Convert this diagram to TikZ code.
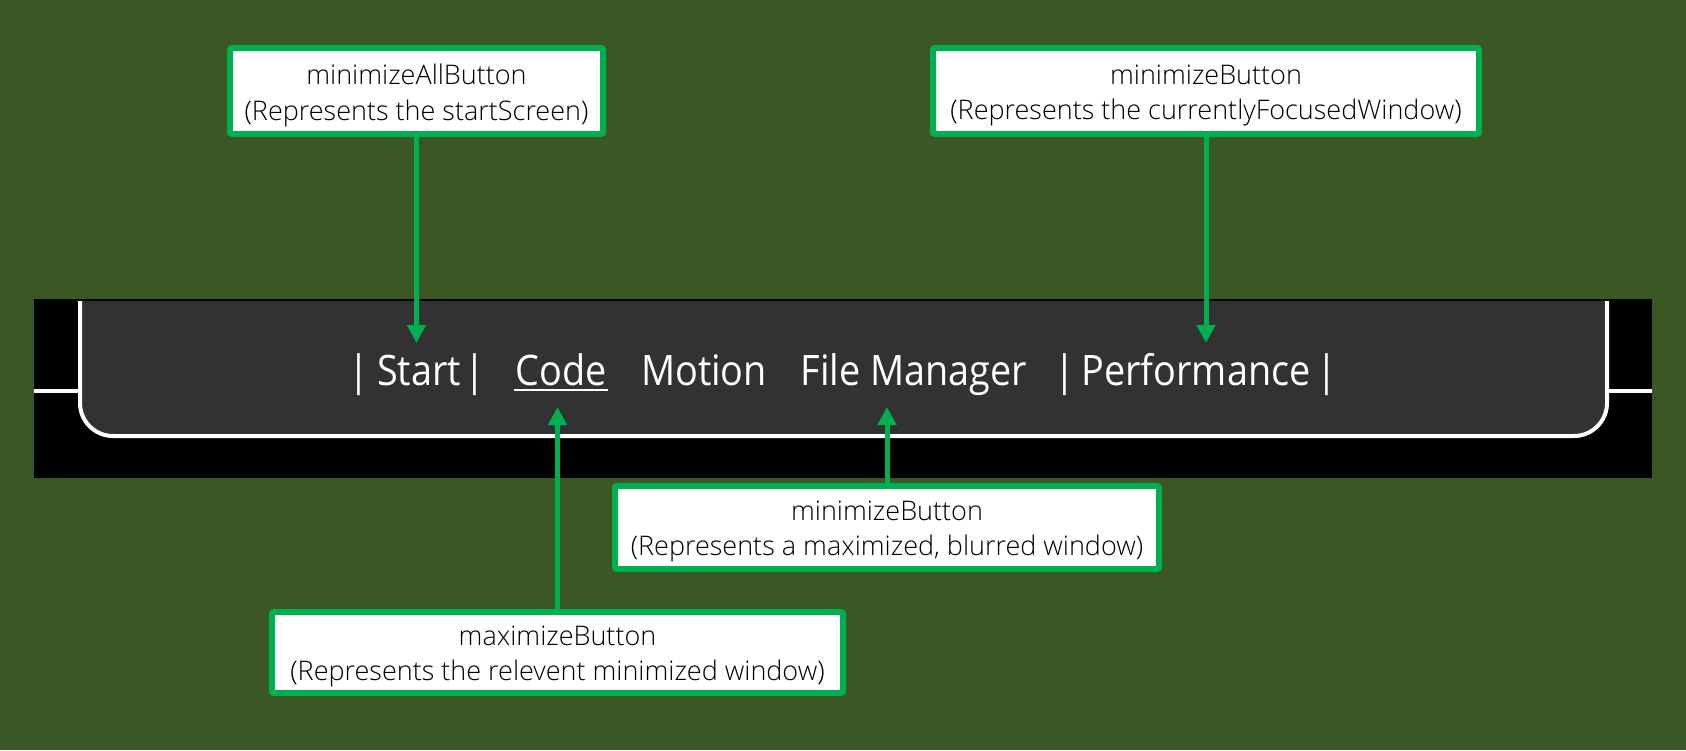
\documentclass[tikz,border=0pt]{standalone}
\usepackage{fontspec}
\setmainfont{Open Sans}
\IfFontExistsTF{Open Sans Light}{\newfontfamily\boxfont{Open Sans Light}}{\newfontfamily\boxfont{Open Sans}}
\usetikzlibrary{arrows.meta}
\definecolor{bggreen}{RGB}{58,87,36}
\definecolor{boxgreen}{RGB}{0,176,80}
\definecolor{panelgray}{RGB}{50,50,50}
\tikzset{
  labelbox/.style={draw=boxgreen, line width=6pt, fill=white, rounded corners=2pt,
    inner sep=0pt},
  boxtext/.style={align=center, inner sep=0pt, text=black,
    font=\boxfont\fontsize{27}{35.5}\selectfont},
  pointer/.style={draw=boxgreen, line width=5pt, -{Triangle[length=18pt,width=18pt]}},
  tabtext/.style={text=white, anchor=base, inner sep=0pt,
    font=\fontsize{42}{50}\selectfont},
  edgeline/.style={draw=white, line width=4pt}
}
\newcommand{\narrow}[1]{\scalebox{0.9}[1]{#1}}
\begin{document}
\begin{tikzpicture}[x=1pt,y=-1pt]
\useasboundingbox (0,0) rectangle (1686,750);
\fill[bggreen] (0,0) rectangle (1686,750);
% taskbar strip
\fill[black] (34,299) rectangle (1652,478);
\filldraw[fill=panelgray, edgeline, rounded corners=33pt] (80,301) -- (80,436) -- (1607,436) -- (1607,301);
\draw[edgeline] (34,391) -- (80,391);
\draw[edgeline] (1607,391) -- (1652,391);
% taskbar texts
\node[tabtext] (bar1) at (359,385) {\narrow{|}};
\node[tabtext] (start) at (419,385) {\narrow{Start}};
\node[tabtext] (bar2) at (475,385) {\narrow{|}};
\node[tabtext] (code) at (561,385) {\narrow{Code}};
\node[tabtext] (motion) at (704,385) {\narrow{Motion}};
\node[tabtext] (files) at (914,385) {\narrow{File Manager}};
\node[tabtext] (bar3) at (1065,385) {\narrow{|}};
\node[tabtext] (perf) at (1196,385) {\narrow{Performance}};
\node[tabtext] (bar4) at (1327,385) {\narrow{|}};
\draw[white, line width=2.5pt] (514,390) -- (608,390);
% label boxes
\node[labelbox, minimum width=373pt, minimum height=86pt] (b1) at (416.5,91) {};
\node[labelbox, minimum width=546pt, minimum height=86pt] (b2) at (1206,91) {};
\node[labelbox, minimum width=544pt, minimum height=83pt] (b3) at (887,527.5) {};
\node[labelbox, minimum width=571pt, minimum height=81pt] (b4) at (557.5,652.5) {};
\node[boxtext] (b1t) at ([yshift=-4.5pt]b1.center) {minimizeAllButton\\(Represents the startScreen)};
\node[boxtext] (b2t) at ([yshift=-4.5pt]b2.center) {minimizeButton\\(Represents the currentlyFocusedWindow)};
\node[boxtext] (b3t) at ([yshift=-4pt]b3.center) {minimizeButton\\(Represents a maximized, blurred window)};
\node[boxtext] (b4t) at ([yshift=-4pt]b4.center) {maximizeButton\\(Represents the relevent minimized window)};
% arrow end points
\coordinate (t1) at (416.5,343);
\coordinate (t2) at (1206,343);
\coordinate (t3) at (887,407);
\coordinate (t4) at (557.5,407);
\draw[pointer] (b1.south) -- (t1);
\draw[pointer] (b2.south) -- (t2);
\draw[pointer] (b3.north) -- (t3);
\draw[pointer] (b4.north) -- (t4);
\end{tikzpicture}
\end{document}
